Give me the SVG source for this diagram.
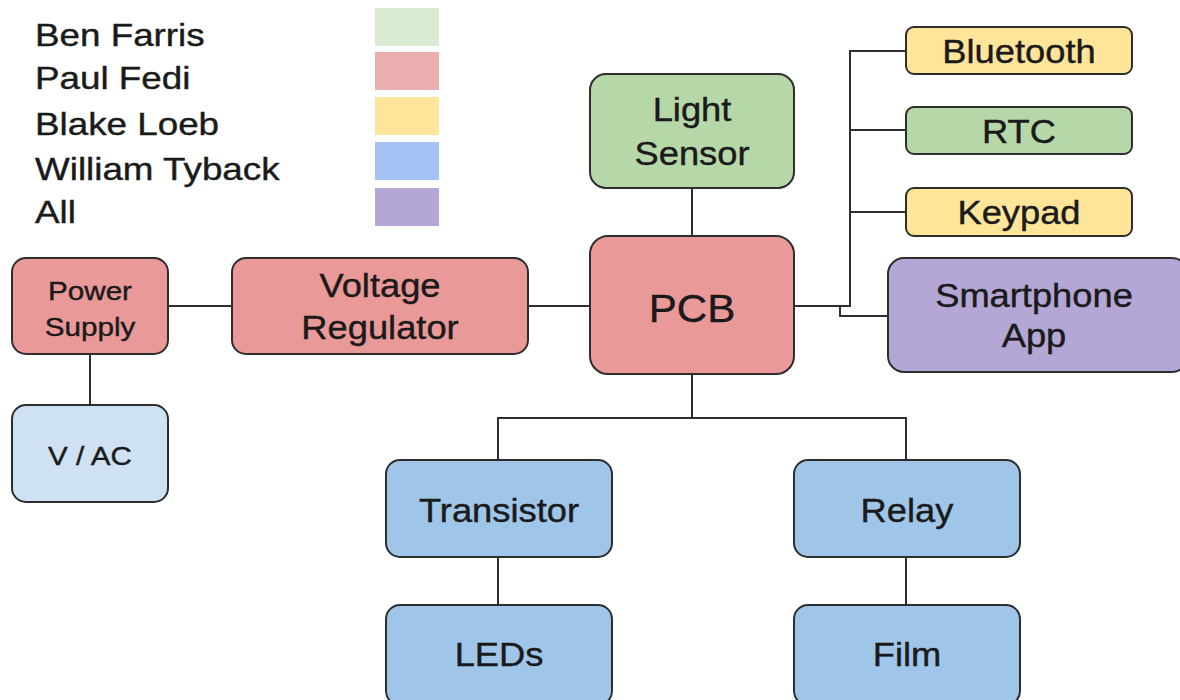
<svg xmlns="http://www.w3.org/2000/svg" width="1180" height="700" viewBox="0 0 1180 700">
<style>
.box{stroke:#2e2e2e;stroke-width:2}
.red{fill:#ea9999}
.green{fill:#b6d7a8}
.yellow{fill:#ffe599}
.purple{fill:#b4a7d6}
.blue{fill:#9fc5e8}
.lblue{fill:#cfe2f3}
text{font-family:"Liberation Sans",Arial,sans-serif;fill:#1a1a1a;stroke:#1a1a1a;stroke-width:0.4}
.c{text-anchor:middle;font-size:33px}
.s{text-anchor:middle;font-size:26px}
.leg{font-size:32px}
.wire{fill:none;stroke:#2e2e2e;stroke-width:2}
</style>
<rect width="1180" height="700" fill="#ffffff"/>
<g id="legend">
<text class="leg" transform="translate(35 46) scale(1.15 1)">Ben Farris</text>
<text class="leg" transform="translate(35 89) scale(1.15 1)">Paul Fedi</text>
<text class="leg" transform="translate(35 135) scale(1.15 1)">Blake Loeb</text>
<text class="leg" transform="translate(35 180) scale(1.15 1)">William Tyback</text>
<text class="leg" transform="translate(35 223) scale(1.15 1)">All</text>
<rect x="375" y="8" width="64" height="38" fill="#d9ead3"/>
<rect x="375" y="52" width="64" height="38" fill="#eaaeae"/>
<rect x="375" y="97" width="64" height="38" fill="#ffe599"/>
<rect x="375" y="142" width="64" height="38" fill="#a4c2f4"/>
<rect x="375" y="188" width="64" height="38" fill="#b4a7d6"/>
</g>
<g id="connectors">
<path class="wire" d="M168 306 H232"/>
<path class="wire" d="M528 306 H590"/>
<path class="wire" d="M90 354 V405"/>
<path class="wire" d="M692 188 V236"/>
<path class="wire" d="M692 374 V418 M498 460 V418 H906 V460"/>
<path class="wire" d="M498 557 V605"/>
<path class="wire" d="M906 557 V605"/>
<path class="wire" d="M794 306 H850 V51 H906 M850 130 H906 M850 212 H906"/>
<path class="wire" d="M840 306 V316 H888"/>
</g>
<g id="power-supply">
<rect class="box red" x="12" y="258" width="156" height="96" rx="14"/>
<text class="s" transform="translate(90 300) scale(1.14 1)">Power</text>
<text class="s" transform="translate(90 336) scale(1.14 1)">Supply</text>
</g>
<g id="voltage-regulator">
<rect class="box red" x="232" y="258" width="296" height="96" rx="14"/>
<text class="c" transform="translate(380 297) scale(1.1 1)">Voltage</text>
<text class="c" transform="translate(380 339) scale(1.1 1)">Regulator</text>
</g>
<g id="pcb">
<rect class="box red" x="590" y="236" width="204" height="138" rx="18"/>
<text class="c" style="font-size:39px" transform="translate(692 322) scale(1.08 1)">PCB</text>
</g>
<g id="light-sensor">
<rect class="box green" x="590" y="74" width="204" height="114" rx="16"/>
<text class="c" transform="translate(692 121) scale(1.1 1)">Light</text>
<text class="c" transform="translate(692 165) scale(1.1 1)">Sensor</text>
</g>
<g id="bluetooth">
<rect class="box yellow" x="906" y="27" width="226" height="47" rx="8"/>
<text class="c" transform="translate(1019 63) scale(1.1 1)">Bluetooth</text>
</g>
<g id="rtc">
<rect class="box green" x="906" y="107" width="226" height="47" rx="8"/>
<text class="c" transform="translate(1019 143) scale(1.1 1)">RTC</text>
</g>
<g id="keypad">
<rect class="box yellow" x="906" y="188" width="226" height="48" rx="8"/>
<text class="c" transform="translate(1019 224) scale(1.1 1)">Keypad</text>
</g>
<g id="smartphone-app">
<rect class="box purple" x="888" y="258" width="300" height="114" rx="16"/>
<text class="c" transform="translate(1034 307) scale(1.1 1)">Smartphone</text>
<text class="c" transform="translate(1034 347) scale(1.1 1)">App</text>
</g>
<g id="v-ac">
<rect class="box lblue" x="12" y="405" width="156" height="97" rx="14"/>
<text class="s" transform="translate(90 465) scale(1.14 1)">V / AC</text>
</g>
<g id="transistor">
<rect class="box blue" x="386" y="460" width="226" height="97" rx="14"/>
<text class="c" transform="translate(499 522) scale(1.1 1)">Transistor</text>
</g>
<g id="relay">
<rect class="box blue" x="794" y="460" width="226" height="97" rx="14"/>
<text class="c" transform="translate(907 522) scale(1.1 1)">Relay</text>
</g>
<g id="leds">
<rect class="box blue" x="386" y="605" width="226" height="100" rx="14"/>
<text class="c" transform="translate(499 666) scale(1.1 1)">LEDs</text>
</g>
<g id="film">
<rect class="box blue" x="794" y="605" width="226" height="100" rx="14"/>
<text class="c" transform="translate(907 666) scale(1.1 1)">Film</text>
</g>
</svg>
